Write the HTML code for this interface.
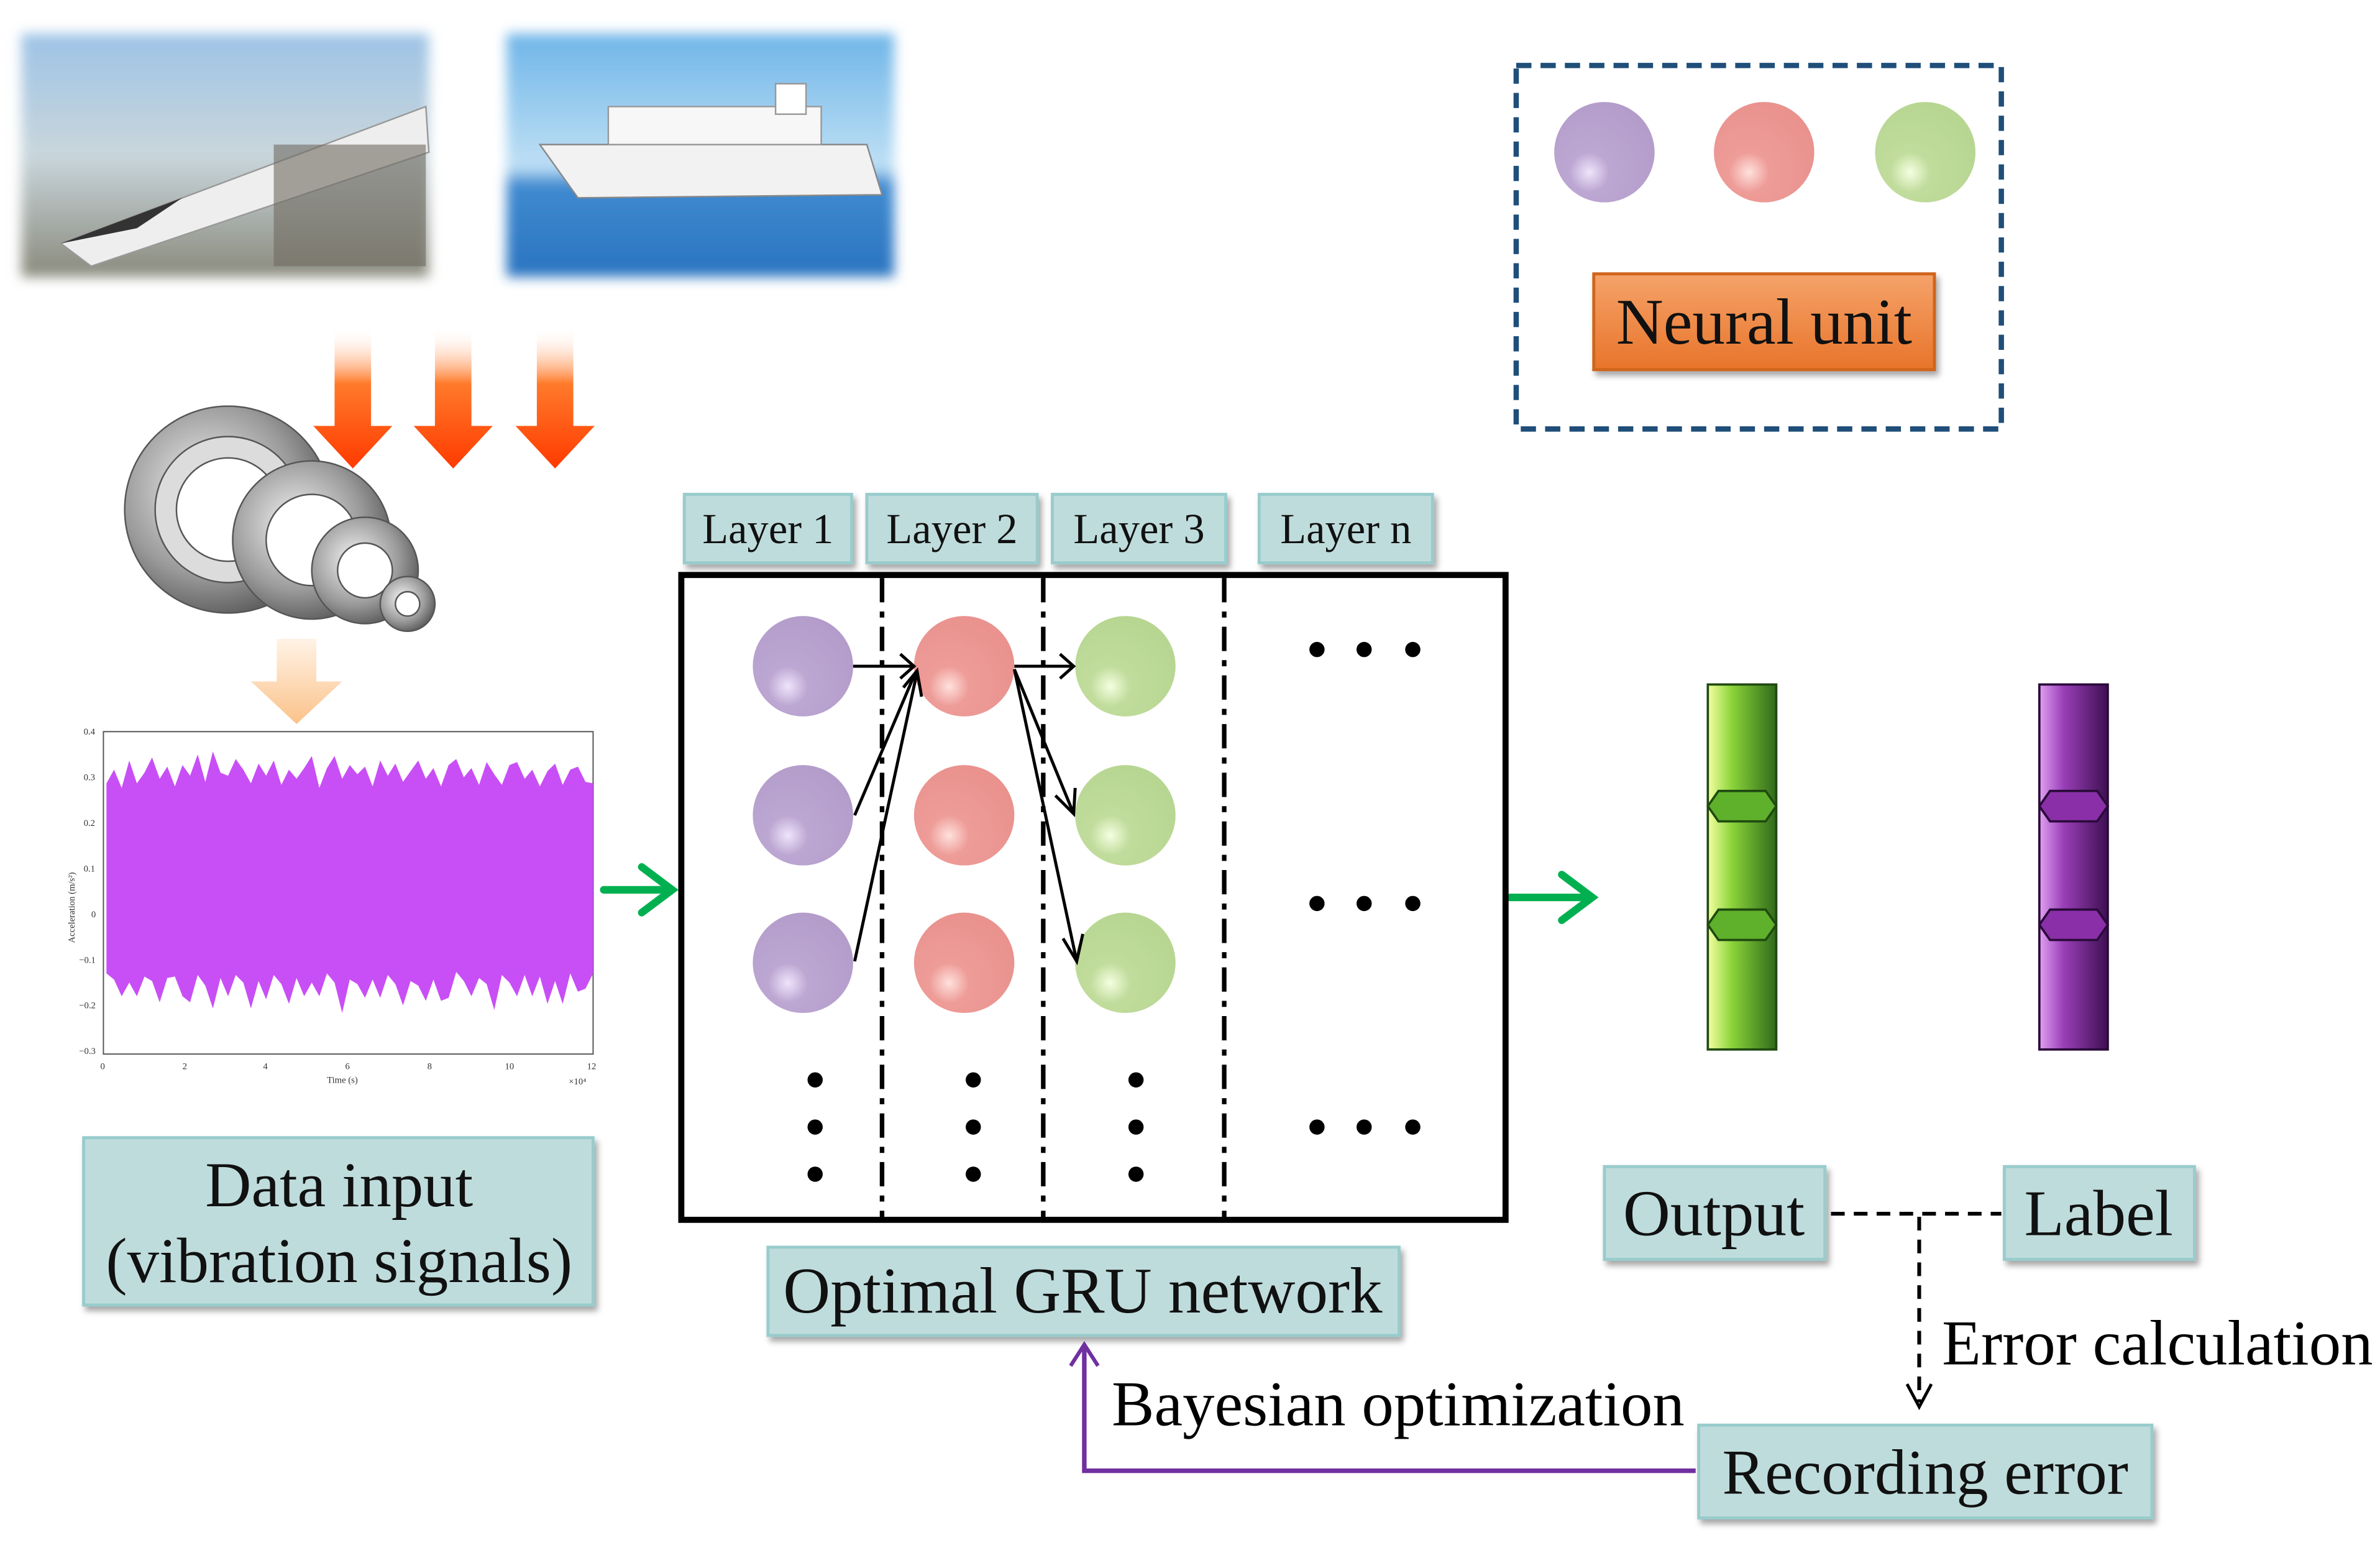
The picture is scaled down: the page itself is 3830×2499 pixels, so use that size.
<!DOCTYPE html>
<html><head><meta charset="utf-8"><style>
html,body{margin:0;padding:0;background:#fff;}
svg{display:block;}
text{font-family:"Liberation Serif",serif;}
</style></head><body>
<svg width="3830" height="2499" viewBox="0 0 1565 1021" xmlns="http://www.w3.org/2000/svg">
<defs>
<radialGradient id="gp" cx="0.35" cy="0.7" r="0.8"><stop offset="0" stop-color="#efe4fb"/><stop offset="0.25" stop-color="#bca6d2"/><stop offset="1" stop-color="#b29bc9"/></radialGradient>
<radialGradient id="gr" cx="0.35" cy="0.7" r="0.8"><stop offset="0" stop-color="#ffe0dc"/><stop offset="0.25" stop-color="#ee9c98"/><stop offset="1" stop-color="#e8908c"/></radialGradient>
<radialGradient id="gg" cx="0.35" cy="0.7" r="0.8"><stop offset="0" stop-color="#f4ffe0"/><stop offset="0.25" stop-color="#c1dc9c"/><stop offset="1" stop-color="#b5d590"/></radialGradient>
<linearGradient id="orange" x1="0" y1="0" x2="0" y2="1"><stop offset="0" stop-color="#fff" stop-opacity="0"/><stop offset="0.4" stop-color="#ff7a2a"/><stop offset="1" stop-color="#ff3a00"/></linearGradient>
<linearGradient id="lorange" x1="0" y1="0" x2="0" y2="1"><stop offset="0" stop-color="#fff3e6"/><stop offset="1" stop-color="#fbc28a"/></linearGradient>
<linearGradient id="sky" x1="0" y1="0" x2="0" y2="1"><stop offset="0" stop-color="#9dc3e6"/><stop offset="0.5" stop-color="#c9d6dc"/><stop offset="1" stop-color="#8a8a7c"/></linearGradient>
<linearGradient id="sea" x1="0" y1="0" x2="0" y2="1"><stop offset="0" stop-color="#6fb5e8"/><stop offset="0.55" stop-color="#bfe0f5"/><stop offset="0.62" stop-color="#3f8ad0"/><stop offset="1" stop-color="#2a74c0"/></linearGradient>
<linearGradient id="gbar" x1="0" y1="0" x2="1" y2="0"><stop offset="0" stop-color="#f4ffa0"/><stop offset="0.35" stop-color="#8bd43a"/><stop offset="1" stop-color="#2f6a1a"/></linearGradient>
<linearGradient id="pbar" x1="0" y1="0" x2="1" y2="0"><stop offset="0" stop-color="#e0a0f0"/><stop offset="0.35" stop-color="#9a3fb8"/><stop offset="1" stop-color="#3e0f52"/></linearGradient>
<linearGradient id="nu" x1="0" y1="0" x2="0" y2="1"><stop offset="0" stop-color="#f5a36a"/><stop offset="1" stop-color="#e8742a"/></linearGradient>
<radialGradient id="steel" cx="0.4" cy="0.4" r="0.7"><stop offset="0" stop-color="#f4f4f4"/><stop offset="0.6" stop-color="#9a9a9a"/><stop offset="1" stop-color="#4a4a4a"/></radialGradient>
<filter id="sh"><feDropShadow dx="2" dy="3" stdDeviation="2" flood-opacity="0.35"/></filter>
<filter id="blur"><feGaussianBlur stdDeviation="4"/></filter>
</defs>

<rect x="14" y="22" width="268" height="160" fill="url(#sky)" filter="url(#blur)"/>
<polygon points="40,160 280,70 282,100 60,175" fill="#eee" stroke="#999"/>
<polygon points="40,160 120,130 90,150" fill="#333"/>
<rect x="180" y="95" width="100" height="80" fill="#6f6a60" opacity="0.6"/>
<rect x="333" y="22" width="255" height="160" fill="url(#sea)" filter="url(#blur)"/>
<polygon points="355,95 570,95 580,128 380,130" fill="#f2f2f2" stroke="#888"/>
<rect x="400" y="70" width="140" height="25" fill="#f7f7f7" stroke="#999"/>
<rect x="510" y="55" width="20" height="20" fill="#fff" stroke="#999"/>

<g fill="url(#orange)">
<polygon points="220,215 244,215 244,280 258,280 232,308 206,280 220,280"/>
<polygon points="286,215 310,215 310,280 324,280 298,308 272,280 286,280"/>
<polygon points="353,215 377,215 377,280 391,280 365,308 339,280 353,280"/>
</g>
<g stroke="#555" stroke-width="1">
<circle cx="150" cy="335" r="68" fill="url(#steel)"/><circle cx="150" cy="335" r="48" fill="#dcdcdc"/><circle cx="150" cy="335" r="34" fill="#fff"/>
<circle cx="205" cy="355" r="52" fill="url(#steel)"/><circle cx="205" cy="355" r="30" fill="#fff"/>
<circle cx="240" cy="375" r="35" fill="url(#steel)"/><circle cx="240" cy="375" r="18" fill="#fff"/>
<circle cx="268" cy="397" r="18" fill="url(#steel)"/><circle cx="268" cy="397" r="8" fill="#fff"/>
</g>
<polygon points="182,420 208,420 208,448 225,448 195,476 165,448 182,448" fill="url(#lorange)"/>

<g font-family="Liberation Sans,sans-serif" font-size="6" fill="#333">
<rect x="68" y="481" width="322" height="212" fill="none" stroke="#555" stroke-width="0.8"/>
<polygon points="70,515 75,506 80,518 85,500 90,515 95,508 100,498 105,512 110,504 115,517 120,503 125,510 130,496 135,514 140,494 145,508 150,510 155,499 160,506 165,515 170,502 175,510 180,500 185,516 190,506 195,512 200,505 205,497 210,518 215,505 220,497 225,512 230,503 235,509 240,504 245,517 250,500 255,510 260,502 265,514 270,507 275,500 280,512 285,505 290,517 295,503 300,499 305,511 310,505 315,516 320,501 325,509 330,516 335,503 340,501 345,512 350,506 355,517 360,507 365,502 370,516 375,506 380,504 385,514 390,515 390,640 385,650 380,652 375,640 370,660 365,645 360,660 355,642 350,655 345,641 340,655 335,646 330,641 325,664 320,647 315,643 310,655 305,645 300,639 295,656 290,658 285,644 280,658 275,648 270,645 265,661 260,647 255,641 250,656 245,644 240,656 235,647 230,644 225,666 220,646 215,640 210,655 205,646 200,655 195,643 190,660 185,647 180,641 175,657 170,645 165,663 160,646 155,641 150,655 145,643 140,663 135,648 130,641 125,659 120,655 115,642 110,643 105,659 100,645 95,642 90,655 85,646 80,655 75,644 70,640" fill="#c84ff5"/>
<text x="55" y="483">0.4</text><text x="55" y="513">0.3</text><text x="55" y="543">0.2</text><text x="55" y="573">0.1</text><text x="60" y="603">0</text><text x="52" y="633">−0.1</text><text x="52" y="663">−0.2</text><text x="52" y="693">−0.3</text>
<text x="66" y="703">0</text><text x="120" y="703">2</text><text x="173" y="703">4</text><text x="227" y="703">6</text><text x="281" y="703">8</text><text x="332" y="703">10</text><text x="386" y="703">12</text>
<text x="215" y="712">Time (s)</text><text x="374" y="713">×10⁴</text>
<text transform="translate(49,620) rotate(-90)">Acceleration (m/s²)</text>
</g>

<g stroke="#00b050" stroke-width="5" fill="none" stroke-linecap="round">
<line x1="397" y1="585" x2="440" y2="585"/><polyline points="422,570 442,585 422,600"/>
<line x1="993" y1="590" x2="1045" y2="590"/><polyline points="1027,575 1047,590 1027,605"/>
</g>

<g filter="url(#sh)">
<rect x="55" y="748" width="335" height="110" fill="#bfdcdc" stroke="#9cc" stroke-width="2"/>
<rect x="450" y="325" width="110" height="45" fill="#bfdcdc" stroke="#9cc" stroke-width="2"/>
<rect x="570" y="325" width="112" height="45" fill="#bfdcdc" stroke="#9cc" stroke-width="2"/>
<rect x="692" y="325" width="114" height="45" fill="#bfdcdc" stroke="#9cc" stroke-width="2"/>
<rect x="828" y="325" width="114" height="45" fill="#bfdcdc" stroke="#9cc" stroke-width="2"/>
<rect x="505" y="820" width="415" height="58" fill="#bfdcdc" stroke="#9cc" stroke-width="2"/>
<rect x="1055" y="767" width="145" height="61" fill="#bfdcdc" stroke="#9cc" stroke-width="2"/>
<rect x="1318" y="767" width="125" height="61" fill="#bfdcdc" stroke="#9cc" stroke-width="2"/>
<rect x="1117" y="937" width="298" height="61" fill="#bfdcdc" stroke="#9cc" stroke-width="2"/>
<rect x="1048" y="180" width="224" height="63" fill="url(#nu)" stroke="#d0651f" stroke-width="2"/>
</g>
<g font-size="42" fill="#111" text-anchor="middle">
<text x="223" y="793">Data input</text><text x="223" y="843">(vibration signals)</text>
<text x="712" y="863" font-size="43">Optimal GRU network</text>
<text x="1127" y="812" font-size="43">Output</text>
<text x="1380" y="812" font-size="43">Label</text>
<text x="1266" y="982">Recording error</text>
<text x="1160" y="226" font-size="43">Neural unit</text>
</g>
<g font-size="28" text-anchor="middle" fill="#111">
<text x="505" y="357">Layer 1</text><text x="626" y="357">Layer 2</text><text x="749" y="357">Layer 3</text><text x="885" y="357">Layer n</text>
</g>
<text x="731" y="937" font-size="42">Bayesian optimization</text>
<text x="1277" y="897" font-size="42">Error calculation</text>

<rect x="448" y="378" width="542" height="424" fill="none" stroke="#000" stroke-width="4"/>
<g stroke="#000" stroke-width="3" stroke-dasharray="16,6,4,6">
<line x1="580" y1="380" x2="580" y2="800"/><line x1="686" y1="380" x2="686" y2="800"/><line x1="805" y1="380" x2="805" y2="800"/>
</g>
<g>
<circle cx="528" cy="438" r="33" fill="url(#gp)"/><circle cx="528" cy="536" r="33" fill="url(#gp)"/><circle cx="528" cy="633" r="33" fill="url(#gp)"/>
<circle cx="634" cy="438" r="33" fill="url(#gr)"/><circle cx="634" cy="536" r="33" fill="url(#gr)"/><circle cx="634" cy="633" r="33" fill="url(#gr)"/>
<circle cx="740" cy="438" r="33" fill="url(#gg)"/><circle cx="740" cy="536" r="33" fill="url(#gg)"/><circle cx="740" cy="633" r="33" fill="url(#gg)"/>
</g>
<g stroke="#000" stroke-width="2" fill="none">
<line x1="561" y1="438" x2="600" y2="438"/><polyline points="592,430 601,438 592,446"/>
<line x1="562" y1="536" x2="602" y2="442"/><line x1="562" y1="632" x2="603" y2="442"/>
<polyline points="594,452 603,441 606,458"/>
<line x1="667" y1="438" x2="705" y2="438"/><polyline points="697,430 706,438 697,446"/>
<line x1="667" y1="440" x2="706" y2="535"/><polyline points="694,523 706,535 707,518"/>
<line x1="667" y1="440" x2="708" y2="632"/><polyline points="699,617 708,632 712,614"/>
</g>
<g fill="#000">
<circle cx="536" cy="710" r="5"/><circle cx="536" cy="741" r="5"/><circle cx="536" cy="772" r="5"/>
<circle cx="640" cy="710" r="5"/><circle cx="640" cy="741" r="5"/><circle cx="640" cy="772" r="5"/>
<circle cx="747" cy="710" r="5"/><circle cx="747" cy="741" r="5"/><circle cx="747" cy="772" r="5"/>
<circle cx="866" cy="427" r="5"/><circle cx="897" cy="427" r="5"/><circle cx="929" cy="427" r="5"/>
<circle cx="866" cy="594" r="5"/><circle cx="897" cy="594" r="5"/><circle cx="929" cy="594" r="5"/>
<circle cx="866" cy="741" r="5"/><circle cx="897" cy="741" r="5"/><circle cx="929" cy="741" r="5"/>
</g>

<g stroke="#1f4a10" stroke-width="1.5">
<rect x="1123" y="450" width="45" height="240" fill="url(#gbar)"/>
<polygon points="1123,530 1130,520 1161,520 1168,530 1161,540 1130,540" fill="#5fb02a"/>
<polygon points="1123,608 1130,598 1161,598 1168,608 1161,618 1130,618" fill="#5fb02a"/>
</g>
<g stroke="#2a0a3a" stroke-width="1.5">
<rect x="1341" y="450" width="45" height="240" fill="url(#pbar)"/>
<polygon points="1341,530 1348,520 1379,520 1386,530 1379,540 1348,540" fill="#8a2fa8"/>
<polygon points="1341,608 1348,598 1379,598 1386,608 1379,618 1348,618" fill="#8a2fa8"/>
</g>

<g stroke="#000" stroke-width="2.5" fill="none" stroke-dasharray="9,6">
<line x1="1204" y1="798" x2="1316" y2="798"/><line x1="1262" y1="800" x2="1262" y2="922"/>
</g>
<polyline points="1254,910 1262,925 1270,910" stroke="#000" stroke-width="2" fill="none"/>
<polyline points="1115,967 713,967 713,885" stroke="#7030a0" stroke-width="3" fill="none"/>
<polyline points="704,898 713,884 722,898" stroke="#7030a0" stroke-width="2.5" fill="none"/>

<rect x="997" y="43" width="319" height="239" fill="none" stroke="#1f4e79" stroke-width="3.5" stroke-dasharray="10,6"/>
<circle cx="1055" cy="100" r="33" fill="url(#gp)"/><circle cx="1160" cy="100" r="33" fill="url(#gr)"/><circle cx="1266" cy="100" r="33" fill="url(#gg)"/>
</svg>
</body></html>
